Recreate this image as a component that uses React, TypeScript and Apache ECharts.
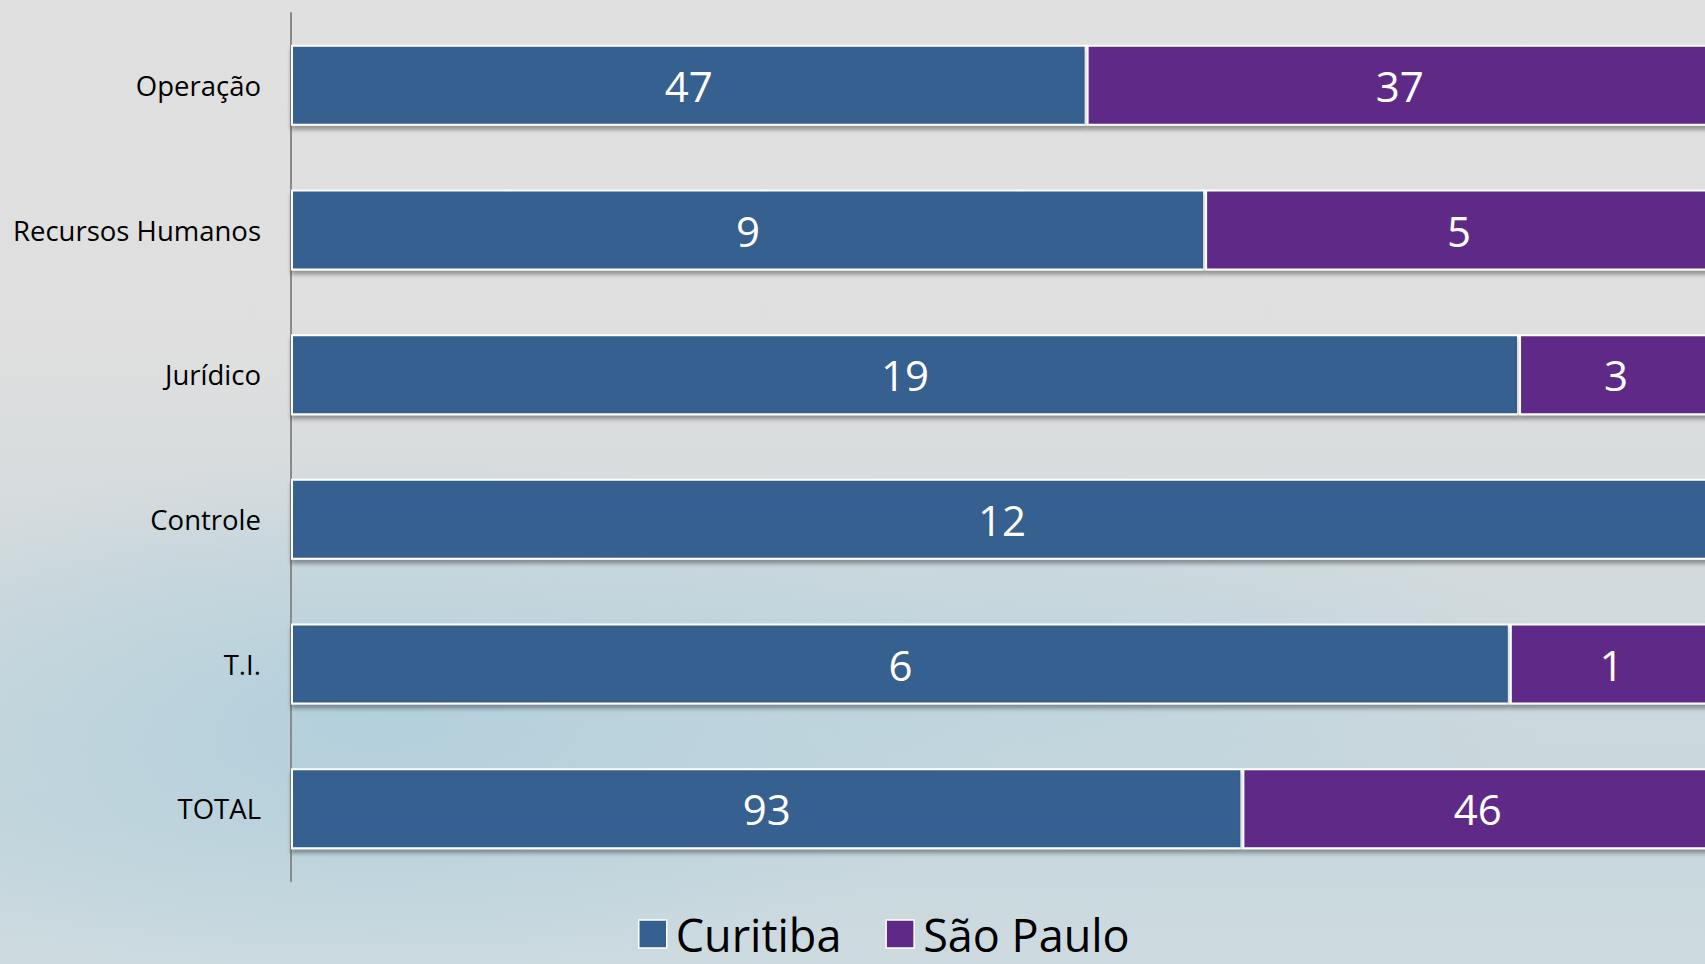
import React, { useEffect, useRef } from "react";
import * as echarts from "echarts";

const categories = ["Operação", "Recursos Humanos", "Jurídico", "Controle", "T.I.", "TOTAL"];
const curitiba = [47, 9, 19, 12, 6, 93];
const saoPaulo = [37, 5, 3, 0, 1, 46];
const seriesNames = ["Curitiba", "São Paulo"];
const colors = ["#36608F", "#5F2A87"];

export default function App() {
  const ref = useRef<HTMLDivElement>(null);
  useEffect(() => {
    if (!ref.current) return;
    const chart = echarts.init(ref.current, undefined, { renderer: "svg" });
    const totals = curitiba.map((v, i) => v + saoPaulo[i]);
    const raw = [curitiba, saoPaulo];
    const font = "'Open Sans', sans-serif";
    const series = raw.map((vals, si) => ({
      name: seriesNames[si],
      type: "bar",
      stack: "total",
      barWidth: "56%",
      clip: false,
      data: vals.map((v, i) => ({ value: (v / totals[i]) * 100, raw: v })),
      itemStyle: {
        color: colors[si],
        borderColor: "#ffffff",
        borderWidth: 2,
        shadowColor: "rgba(0,0,0,0.35)",
        shadowBlur: 4,
        shadowOffsetY: 4,
      },
      label: {
        show: true,
        position: "inside",
        color: "#ffffff",
        fontFamily: font,
        fontSize: 42,
        formatter: (p: any) => (p.data.raw ? String(p.data.raw) : ""),
      },
    }));
    chart.setOption({
      animation: false,
      backgroundColor: "transparent",
      grid: { left: 291, right: 0, top: 13, height: 868 },
      legend: {
        data: seriesNames,
        left: 633,
        top: 904,
        icon: "rect",
        itemWidth: 28,
        itemHeight: 28,
        itemGap: 44,
        itemStyle: { borderColor: "#ffffff", borderWidth: 1.5 },
        textStyle: {
          fontFamily: font,
          fontSize: 45,
          lineHeight: 50,
          color: "#000000",
          padding: [0, 0, 0, 4],
        },
      },
      xAxis: {
        type: "value",
        min: 0,
        // the bars run slightly past the right edge of the picture
        max: 99.44,
        show: false,
      },
      yAxis: {
        type: "category",
        data: categories,
        inverse: true,
        axisLine: { show: true, lineStyle: { color: "#8a8a8a", width: 2 } },
        axisTick: { show: false },
        axisLabel: { fontFamily: font, fontSize: 27.5, color: "#000000", margin: 30 },
      },
      series,
    });
    return () => chart.dispose();
  }, []);
  return (
    <div
      style={{
        position: "fixed",
        left: 0,
        top: 0,
        width: 1705,
        height: 964,
        overflow: "hidden",
        background:
          "radial-gradient(ellipse 900px 380px at 380px 720px, rgba(170,205,220,0.75), rgba(170,205,220,0) 70%)," +
          "radial-gradient(ellipse 800px 300px at 1000px 680px, rgba(180,210,222,0.6), rgba(180,210,222,0) 70%)," +
          "linear-gradient(180deg, #e0e0e0 0%, #dfdfdf 35%, #d2dadd 60%, #c8d7dd 85%, #cddbe0 100%)",
      }}
    >
      <div ref={ref} style={{ width: 1705, height: 964 }} />
    </div>
  );
}
